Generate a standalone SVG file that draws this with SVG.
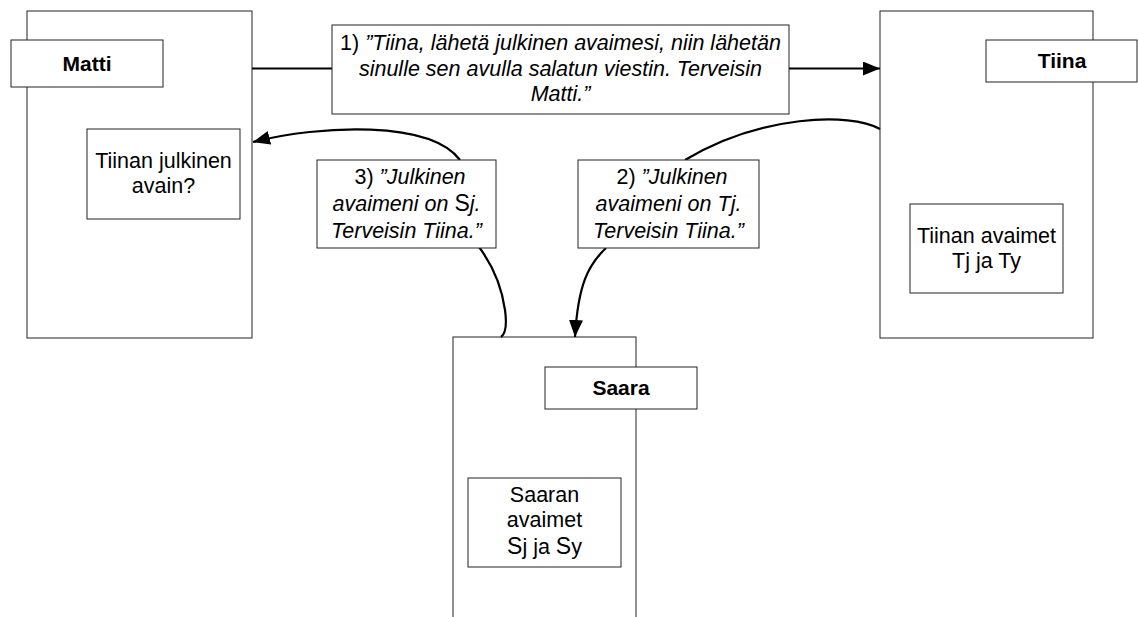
<svg xmlns="http://www.w3.org/2000/svg" width="1138" height="617" viewBox="0 0 1138 617">
  <style>
    .box { fill: #ffffff; stroke: #222222; stroke-width: 1; }
    .wire { fill: none; stroke: #000000; stroke-width: 2.2; }
    text { font-family: "Liberation Sans", Arial, sans-serif; font-size: 21.5px; fill: #000000; text-anchor: middle; }
    .name { font-weight: bold; font-size: 21px; }
    .it { font-style: italic; }
    .up { font-style: normal; }
    .big { font-size: 23px; }
  </style>
  <defs>
    <marker id="arrow" markerUnits="userSpaceOnUse" markerWidth="18" markerHeight="14" refX="17" refY="7" orient="auto">
      <path d="M0,0 L17,7 L0,14 z" fill="#000000"/>
    </marker>
  </defs>

  <rect width="1138" height="617" fill="#ffffff"/>

  <!-- party frames -->
  <g id="matti">
    <rect class="box" x="27" y="11" width="225" height="327"/>
    <rect class="box" x="11" y="40" width="152" height="47"/>
    <text class="name" x="87" y="71">Matti</text>
  </g>
  <g id="matti-key">
    <rect class="box" x="87" y="129" width="153" height="90"/>
    <text x="163.5" y="168">Tiinan julkinen</text>
    <text x="163.5" y="193">avain?</text>
  </g>

  <g id="tiina">
    <rect class="box" x="880" y="11" width="213" height="327"/>
    <rect class="box" x="986" y="40" width="151" height="42"/>
    <text class="name" x="1062" y="68">Tiina</text>
  </g>
  <g id="tiina-keys">
    <rect class="box" x="910" y="204" width="153" height="89"/>
    <text x="986.5" y="243">Tiinan avaimet</text>
    <text x="986.5" y="268">Tj ja Ty</text>
  </g>

  <g id="saara">
    <rect class="box" x="453" y="337" width="183" height="300"/>
    <rect class="box" x="545" y="367" width="152" height="42"/>
    <text class="name" x="621" y="395">Saara</text>
  </g>
  <g id="saara-keys">
    <rect class="box" x="468" y="478" width="153" height="89"/>
    <text x="544.5" y="502">Saaran</text>
    <text x="544.5" y="527">avaimet</text>
    <text x="544.5" y="554"><tspan class="big">S</tspan>j ja <tspan class="big">S</tspan>y</text>
  </g>

  <!-- connectors -->
  <g id="connectors">
    <path class="wire" d="M252,68.5 L880,68.5" marker-end="url(#arrow)"/>
    <path class="wire" d="M880,129 C850,112 760,115 685,160"/>
    <path class="wire" d="M606,248 C588,265 578,285 575,337" marker-end="url(#arrow)"/>
    <path class="wire" d="M501,337 Q508,332 505,310 Q500,275 479,247"/>
    <path class="wire" d="M460,160 C430,120 320,125 253,142" marker-end="url(#arrow)"/>
  </g>

  <!-- message boxes -->
  <g id="msg1">
    <rect class="box" x="332" y="25" width="457" height="89"/>
    <text x="560.5" y="50">1) <tspan class="it">”Tiina, lähetä julkinen avaimesi, niin lähetän</tspan></text>
    <text class="it" x="560.5" y="75.5">sinulle sen avulla salatun viestin. Terveisin</text>
    <text class="it" x="560.5" y="101">Matti.”</text>
  </g>
  <g id="msg2">
    <rect class="box" x="578" y="160" width="181" height="88"/>
    <text x="672" y="184">2) <tspan class="it">”Julkinen</tspan></text>
    <text class="it" x="668.5" y="211">avaimeni on Tj.</text>
    <text class="it" x="668.5" y="238">Terveisin Tiina.”</text>
  </g>
  <g id="msg3">
    <rect class="box" x="317" y="160" width="179" height="88"/>
    <text x="410" y="184">3) <tspan class="it">”Julkinen</tspan></text>
    <text class="it" x="406.5" y="211">avaimeni on <tspan class="up big">S</tspan>j.</text>
    <text class="it" x="406.5" y="238">Terveisin Tiina.”</text>
  </g>
</svg>
